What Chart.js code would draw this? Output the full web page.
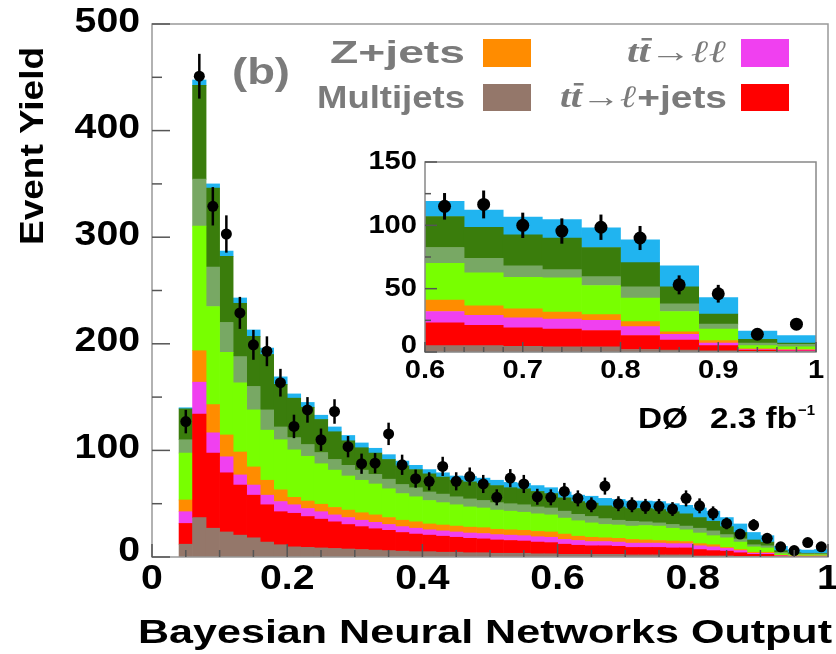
<!DOCTYPE html>
<html>
<head>
<meta charset="utf-8">
<script src="https://cdn.jsdelivr.net/npm/chart.js@4.4.1/dist/chart.umd.min.js"></script>
<style>
  body { margin: 0; background: #fff; }
  #wrap { position: relative; width: 836px; height: 654px; }
  canvas { position: absolute; left: 0; top: 0; }
  #inset { pointer-events: none; }
</style>
</head>
<body>
<div id="wrap">
  <canvas id="main" width="836" height="654"></canvas>
  <canvas id="inset" width="836" height="654"></canvas>
</div>
<script>
/* ---------- DATA (main histogram, bins of 0.02 from 0.04 to 1.0) ---------- */
const binCenters = [0.05, 0.07, 0.09, 0.11, 0.13, 0.15, 0.17, 0.19, 0.21, 0.23, 0.25, 0.27, 0.29, 0.31, 0.33, 0.35,
  0.37, 0.39, 0.41, 0.43, 0.45, 0.47, 0.49, 0.51, 0.53, 0.55, 0.57, 0.59, 0.61, 0.63, 0.65, 0.67,
  0.69, 0.71, 0.73, 0.75, 0.77, 0.79, 0.81, 0.83, 0.85, 0.87, 0.89, 0.91, 0.93, 0.95, 0.97, 0.99];

const multijets = [12, 37, 27, 23.5, 20.5, 18, 14, 11.5, 9.5, 9, 8.5, 8, 7.5, 7, 6.5, 6, 5.5, 5, 5, 4.5, 4.5, 4, 4, 3.5,
  3.5, 3.5, 3, 3, 2.5, 2.5, 2.5, 2.5, 2.5, 2, 2, 2, 2, 2, 1, 1, 1, 0.5, 0.5, 0.5, 0.3, 0.2, 0.2, 0.3];
const ttLjets = [19.5, 97, 70.5, 55.5, 47, 40, 35, 31, 31.5, 29, 27, 25, 23, 21.5, 20, 19, 17.5, 16.5, 15.5, 15, 14, 13.5, 13, 12.5,
  12, 11.5, 11, 10.5, 9.5, 8.5, 8, 8, 7.5, 7, 7, 7, 6.5, 6.5, 6, 5, 4.5, 3.5, 2, 2, 0.6, 0.4, 0.3, 0.2];
const ttLL = [11, 30, 19, 15, 9.5, 9.5, 9, 9.5, 8, 7.5, 7, 6.5, 6.5, 6, 6, 5.5, 5.5, 5.5, 5, 5, 5, 5, 5, 5,
  5, 5, 5, 5, 4.5, 4.5, 4, 4, 4, 4, 4, 4, 4, 4, 3.5, 3.5, 2.5, 2, 1, 1, 0.3, 0.2, 0.2, 0.3];
const zjets = [11, 29.5, 26.5, 20.5, 21.5, 17, 14, 11, 7, 7, 7, 7, 7, 7, 7, 6.5, 6, 6, 5.5, 5.5, 5.5, 5.5, 5.5, 5,
  5, 5, 5, 5, 5, 4, 4, 3.5, 3.5, 3.5, 3, 2.5, 2.5, 2, 2, 2, 1, 1, 1, 1, 0.3, 0.2, 0.3, 0.2];
const wLight = [44, 117, 92, 77.5, 65, 53.5, 47, 47, 44.5, 42, 38, 35, 32, 30.5, 29, 27, 25, 23.5, 22, 21, 20, 19, 18.5, 18,
  17.5, 17, 16.5, 16, 15, 14.5, 13.5, 12.5, 12.5, 12.5, 13.5, 13.5, 12, 11, 10, 8.5, 9, 7, 5, 4, 1.5, 1, 1, 1];
const wCharm = [12.5, 44, 37, 28, 24.5, 22, 19, 12, 11.5, 11, 10.5, 10, 10, 9.5, 9, 9, 8.5, 8.5, 8, 8, 7.5, 7.5, 7, 7,
  7, 7, 6.5, 6.5, 6.5, 6, 6, 5.5, 4.5, 4.5, 3.5, 3, 3.5, 3.5, 4.5, 4.5, 3, 3, 2, 2, 1.2, 0.8, 1, 1];
const wBottom = [29, 88, 74, 62, 50, 47, 52, 40, 37, 35, 31, 26, 23, 21, 20, 18.5, 17.5, 17, 17, 16, 15.5, 16, 16, 16,
  15, 15, 14.5, 13.5, 12.5, 12, 12.5, 12, 12.5, 12, 12.5, 12.5, 12, 11.5, 10, 9, 7.5, 6, 4.5, 3.5, 1.8, 1.2, 0.5, 0.5];
const signal = [1, 5, 4, 5, 5, 6, 6, 7, 4, 4.5, 4, 4.5, 5, 4.5, 4.5, 4.5, 4.5, 4, 4, 4, 4, 5, 5, 5,
  5, 5, 5.5, 5.5, 5.5, 6, 6.5, 7, 7, 7, 7, 7.5, 7.5, 8, 9, 9.5, 8.5, 8, 7, 6, 4, 3, 3, 3.5];

const dataYield = [127, 451, 329, 303, 229, 199, 193, 163.5, 122.5, 138, 110, 136.5, 103.5, 87.5, 88, 115.5, 86.5, 73.5, 71, 85,
  71, 75.5, 68.5, 56, 74, 68.5, 56.5, 56, 61.5, 55, 49, 66.5, 50, 49, 47.5, 47.5, 45, 55, 48, 41, 31.5, 21.5, 30, 17.5, 9.5, 6, 13.5, 9.5];
const dataErr = [11, 21, 18, 17.5, 15, 14, 14, 13, 11, 12, 10.5, 11.5, 10, 9.5, 9.5, 10.5, 9.5, 8.5, 8.5, 9,
  8.5, 8.5, 8.5, 7.5, 8.5, 8.5, 7.5, 7.5, 8, 7.5, 7, 8, 7, 7, 7, 7, 6.5, 7.5, 7, 6.5, 5.5, 4.5, 5.5, 4, 3, 2.5, 3.5, 3];

/* ---------- DATA (inset, bins of 0.04 from 0.6 to 1.0) ---------- */
const insetCenters = [0.62, 0.66, 0.70, 0.74, 0.78, 0.82, 0.86, 0.90, 0.94, 0.98];
const insetMultijets = [5, 5, 4.5, 4, 4, 2, 1.5, 1, 0.5, 0.5];
const insetTtLjets = [18, 16, 14.5, 14, 13, 11, 8, 4, 1, 0.5];
const insetTtLL = [9, 8, 8, 8, 8, 7, 4.5, 2, 0.5, 0.5];
const insetZjets = [9, 7.5, 7, 5.5, 4.5, 4, 2, 2, 0.5, 0.5];
const insetWLight = [29, 26, 25, 27, 23, 18.5, 16, 9, 2.5, 2];
const insetWCharm = [12.5, 11.5, 9, 6.5, 7, 9, 6, 4, 2, 2];
const insetWBottom = [24.5, 24.5, 24.5, 25, 23, 19, 13.5, 8, 3, 1];
const insetSignal = [12, 13.5, 14, 14.5, 15.5, 18, 16.5, 13, 6.5, 6];
const insetData = [115, 116.5, 100, 95.5, 98.5, 90, 53, 46, 14, 22];
const insetErr = [10.5, 11, 10, 10, 10, 9.5, 7.5, 7, 4, 4.5];

/* ---------- TICKS ---------- */
const yTicks = [0, 100, 200, 300, 400, 500];
const xTicks = [0, 0.2, 0.4, 0.6, 0.8, 1];
const xTickLabels = ["0", "0.2", "0.4", "0.6", "0.8", "1"];
const insetYTicks = [0, 50, 100, 150];
const insetXTicks = [0.6, 0.7, 0.8, 0.9, 1];
const insetXTickLabels = ["0.6", "0.7", "0.8", "0.9", "1"];

/* ---------- COLOURS ---------- */
const C = {
  brown: "#94776a", red: "#ff0000", magenta: "#f040f0", orange: "#ff8c00",
  light: "#78ff00", grey: "#78a864", dark: "#3a7d0c", blue: "#20b4f0"
};
const legendGrey = "#7b7b7b";
const SANS = "'Liberation Sans', Arial, sans-serif";
const SERIF = "'Liberation Serif', 'DejaVu Serif', serif";

function layerSets(centers, layers) {
  return layers.map(l => ({
    label: l.label,
    data: centers.map((x, i) => ({ x: x, y: l.values[i] })),
    backgroundColor: l.color,
    borderWidth: 0,
    barPercentage: 1,
    categoryPercentage: 1,
    stack: "mc",
    order: 2
  }));
}

/* ---------- TEXT HELPERS ---------- */
function drawText(ctx, s, x, y, o) {
  ctx.save();
  ctx.font = o.font;
  ctx.fillStyle = o.color || "#000";
  ctx.textBaseline = "middle";
  const w = ctx.measureText(s).width;
  const sx = o.width ? o.width / w : (o.sx || 1);
  ctx.translate(x, y);
  if (o.rotate) ctx.rotate(o.rotate);
  ctx.scale(sx, 1);
  ctx.textAlign = o.align || "left";
  ctx.fillText(s, 0, 0);
  ctx.restore();
}

// pieces of a label drawn left to right, right edge at xr, squeezed to width
function drawParts(ctx, parts, xr, y, width, color) {
  ctx.save();
  ctx.fillStyle = color;
  ctx.textBaseline = "middle";
  let total = 0;
  parts.forEach(p => { ctx.font = p.font; p.w = ctx.measureText(p.s).width; total += p.w; });
  const sx = width / total;
  let x = xr - width;
  parts.forEach(p => {
    ctx.save();
    ctx.font = p.font;
    ctx.translate(x, y);
    ctx.scale(sx, 1);
    ctx.fillText(p.s, 0, 0);
    ctx.restore();
    if (p.bar) {
      ctx.font = p.font;
      const tw = ctx.measureText("t").width * sx;
      ctx.fillRect(x + tw + 3, y - 16, tw * 0.9, 2.5);
    }
    x += p.w * sx;
  });
  ctx.restore();
}

/* ---------- MAIN CHART ---------- */
const mainDecor = {
  id: "mainDecor",
  beforeDraw(chart) {
    const ctx = chart.ctx;
    ctx.save();
    ctx.fillStyle = "#fff";
    ctx.fillRect(0, 0, chart.width, chart.height);
    ctx.restore();
  },
  afterDatasetsDraw(chart) {
    const ctx = chart.ctx, xs = chart.scales.x, ys = chart.scales.y;
    ctx.save();
    ctx.strokeStyle = "#000";
    ctx.lineWidth = 2.5;
    binCenters.forEach((x, i) => {
      const px = xs.getPixelForValue(x);
      ctx.beginPath();
      ctx.moveTo(px, ys.getPixelForValue(dataYield[i] - dataErr[i]));
      ctx.lineTo(px, ys.getPixelForValue(dataYield[i] + dataErr[i]));
      ctx.stroke();
    });
    ctx.restore();
  },
  afterDraw(chart) {
    const ctx = chart.ctx, xs = chart.scales.x, ys = chart.scales.y;
    const a = chart.chartArea;
    ctx.save();
    // frame
    ctx.strokeStyle = "#999";
    ctx.lineWidth = 1.5;
    ctx.strokeRect(a.left, a.top, a.right - a.left, a.bottom - a.top);
    // ticks
    ctx.strokeStyle = "#555";
    ctx.lineWidth = 1.5;
    for (let v = 0; v <= 500; v += 50) {
      const py = ys.getPixelForValue(v);
      const len = v % 100 === 0 ? 18 : 10;
      ctx.beginPath(); ctx.moveTo(a.left, py); ctx.lineTo(a.left + len, py); ctx.stroke();
    }
    for (let k = 0; k <= 20; k++) {
      const px = xs.getPixelForValue(k * 0.05);
      const len = k % 4 === 0 ? 13 : 7;
      ctx.beginPath(); ctx.moveTo(px, a.bottom); ctx.lineTo(px, a.bottom - len); ctx.stroke();
    }
    ctx.restore();

    const tickFont = "bold 35px " + SANS;
    yTicks.forEach(v => {
      drawText(ctx, String(v), a.left - 12, ys.getPixelForValue(v) - (v === 0 ? 6 : 2), { font: tickFont, align: "right", sx: 1.12 });
    });
    xTicks.forEach((v, i) => {
      drawText(ctx, xTickLabels[i], xs.getPixelForValue(v), a.bottom + 22, { font: tickFont, align: "center", sx: 1.12 });
    });
    // axis titles
    drawText(ctx, "Event Yield", 34, 146, { font: "bold 33px " + SANS, align: "center", rotate: -Math.PI / 2, width: 198 });
    drawText(ctx, "Bayesian Neural Networks Output", 485, 634, { font: "bold 34px " + SANS, align: "center", width: 694 });

    // legend
    drawText(ctx, "(b)", 232, 74, { font: "bold 36px " + SANS, color: legendGrey, width: 58 });
    drawText(ctx, "Z+jets", 465, 54, { font: "bold 31px " + SANS, color: legendGrey, align: "right", width: 135 });
    drawText(ctx, "Multijets", 465, 99, { font: "bold 31px " + SANS, color: legendGrey, align: "right", width: 148 });
    const it = "italic bold 31px " + SERIF, up = "bold 31px " + SANS;
    drawParts(ctx, [{ s: "tt", font: it, bar: true }, { s: "\u2192", font: "bold 31px " + SERIF }, { s: "\u2113\u2113", font: it }],
      727, 54, 100, legendGrey);
    drawParts(ctx, [{ s: "tt", font: it, bar: true }, { s: "\u2192", font: "bold 31px " + SERIF }, { s: "\u2113", font: it }, { s: "+jets", font: up }],
      727, 99, 167, legendGrey);
    ctx.save();
    ctx.fillStyle = C.orange; ctx.fillRect(483, 39, 48, 28);
    ctx.fillStyle = C.brown; ctx.fillRect(483, 84, 48, 27);
    ctx.fillStyle = C.magenta; ctx.fillRect(741, 39, 48, 28);
    ctx.fillStyle = C.red; ctx.fillRect(741, 84, 48, 27);
    ctx.restore();

    // experiment label
    drawText(ctx, "D\u00d8", 638, 420, { font: "bold 30px " + SANS, width: 50 });
    drawText(ctx, "2.3 fb", 710, 420, { font: "bold 30px " + SANS, width: 87 });
    drawText(ctx, "\u22121", 798, 411, { font: "bold 15px " + SANS, width: 17 });
  }
};

new Chart(document.getElementById("main"), {
  type: "bar",
  data: {
    datasets: [
      ...layerSets(binCenters, [
        { label: "Multijets", values: multijets, color: C.brown },
        { label: "tt l+jets", values: ttLjets, color: C.red },
        { label: "tt ll", values: ttLL, color: C.magenta },
        { label: "Z+jets", values: zjets, color: C.orange },
        { label: "W+light", values: wLight, color: C.light },
        { label: "W+charm", values: wCharm, color: C.grey },
        { label: "W+bottom", values: wBottom, color: C.dark },
        { label: "Signal", values: signal, color: C.blue }
      ]),
      {
        type: "scatter",
        label: "Data",
        data: binCenters.map((x, i) => ({ x: x, y: dataYield[i] })),
        pointRadius: 5.5,
        pointBackgroundColor: "#000",
        pointBorderColor: "#000",
        pointBorderWidth: 0,
        stack: "obs",
        order: 0
      }
    ]
  },
  options: {
    responsive: false,
    animation: false,
    layout: { padding: { left: 152, right: 8, top: 24, bottom: 97 } },
    plugins: { legend: { display: false }, tooltip: { enabled: false } },
    scales: {
      x: { type: "linear", min: 0, max: 1, offset: false, stacked: true, display: false },
      y: { min: 0, max: 500, stacked: true, display: false }
    }
  },
  plugins: [mainDecor]
});

/* ---------- INSET CHART ---------- */
const insetDecor = {
  id: "insetDecor",
  beforeDraw(chart) {
    const ctx = chart.ctx, a = chart.chartArea;
    ctx.save();
    ctx.fillStyle = "#fff";
    ctx.fillRect(a.left, a.top, a.right - a.left, a.bottom - a.top);
    ctx.restore();
  },
  afterDatasetsDraw(chart) {
    const ctx = chart.ctx, xs = chart.scales.x, ys = chart.scales.y;
    ctx.save();
    ctx.strokeStyle = "#000";
    ctx.lineWidth = 3;
    insetCenters.forEach((x, i) => {
      const px = xs.getPixelForValue(x);
      ctx.beginPath();
      ctx.moveTo(px, ys.getPixelForValue(insetData[i] - insetErr[i]));
      ctx.lineTo(px, ys.getPixelForValue(insetData[i] + insetErr[i]));
      ctx.stroke();
    });
    ctx.restore();
  },
  afterDraw(chart) {
    const ctx = chart.ctx, xs = chart.scales.x, ys = chart.scales.y, a = chart.chartArea;
    ctx.save();
    ctx.strokeStyle = "#888";
    ctx.lineWidth = 1.5;
    ctx.strokeRect(a.left, a.top, a.right - a.left, a.bottom - a.top);
    ctx.strokeStyle = "#555";
    for (let v = 0; v <= 150; v += 25) {
      const py = ys.getPixelForValue(v);
      const len = v % 50 === 0 ? 12 : 6;
      ctx.beginPath(); ctx.moveTo(a.left, py); ctx.lineTo(a.left + len, py); ctx.stroke();
    }
    for (let k = 0; k <= 20; k++) {
      const px = xs.getPixelForValue(0.6 + k * 0.02);
      const len = k % 5 === 0 ? 10 : 5;
      ctx.beginPath(); ctx.moveTo(px, a.bottom); ctx.lineTo(px, a.bottom - len); ctx.stroke();
    }
    ctx.restore();
    const f = "bold 26px " + SANS;
    insetYTicks.forEach(v => {
      drawText(ctx, String(v), a.left - 8, ys.getPixelForValue(v) - (v === 0 ? 6 : 0), { font: f, align: "right", sx: 1.12 });
    });
    insetXTicks.forEach((v, i) => {
      drawText(ctx, insetXTickLabels[i], xs.getPixelForValue(v), a.bottom + 19, { font: f, align: "center", sx: 1.12 });
    });
  }
};

new Chart(document.getElementById("inset"), {
  type: "bar",
  data: {
    datasets: [
      ...layerSets(insetCenters, [
        { label: "Multijets", values: insetMultijets, color: C.brown },
        { label: "tt l+jets", values: insetTtLjets, color: C.red },
        { label: "tt ll", values: insetTtLL, color: C.magenta },
        { label: "Z+jets", values: insetZjets, color: C.orange },
        { label: "W+light", values: insetWLight, color: C.light },
        { label: "W+charm", values: insetWCharm, color: C.grey },
        { label: "W+bottom", values: insetWBottom, color: C.dark },
        { label: "Signal", values: insetSignal, color: C.blue }
      ]),
      {
        type: "scatter",
        label: "Data",
        data: insetCenters.map((x, i) => ({ x: x, y: insetData[i] })),
        pointRadius: 6.5,
        pointBackgroundColor: "#000",
        pointBorderColor: "#000",
        pointBorderWidth: 0,
        stack: "obs",
        order: 0
      }
    ]
  },
  options: {
    responsive: false,
    animation: false,
    layout: { padding: { left: 425, right: 20, top: 162, bottom: 302 } },
    plugins: { legend: { display: false }, tooltip: { enabled: false } },
    scales: {
      x: { type: "linear", min: 0.6, max: 1, offset: false, stacked: true, display: false },
      y: { min: 0, max: 150, stacked: true, display: false }
    }
  },
  plugins: [insetDecor]
});
</script>
</body>
</html>
